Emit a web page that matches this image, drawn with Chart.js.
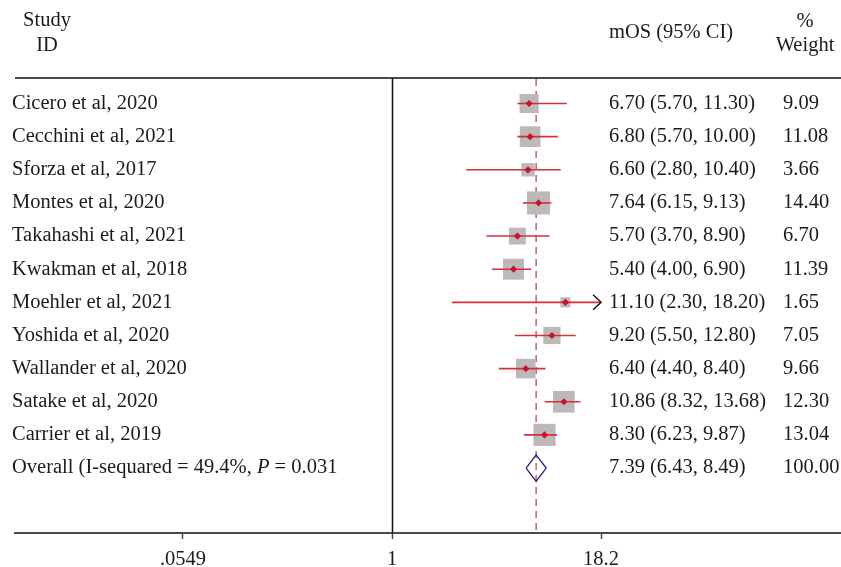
<!DOCTYPE html>
<html>
<head>
<meta charset="utf-8">
<script src="https://cdn.jsdelivr.net/npm/chart.js@4.4.1/dist/chart.umd.min.js"></script>
<style>
  html, body { margin: 0; padding: 0; background: #ffffff; }
  canvas { display: block; }
</style>
</head>
<body>
<canvas id="forest" width="841" height="567"></canvas>
<script>
// ---- Study data: median overall survival (months) with 95% CI and weights ----
const studies = [
  'Cicero et al, 2020',
  'Cecchini et al, 2021',
  'Sforza et al, 2017',
  'Montes et al, 2020',
  'Takahashi et al, 2021',
  'Kwakman et al, 2018',
  'Moehler et al, 2021',
  'Yoshida et al, 2020',
  'Wallander et al, 2020',
  'Satake et al, 2020',
  'Carrier et al, 2019'
];
const mos     = [6.70, 6.80, 6.60, 7.64, 5.70, 5.40, 11.10, 9.20, 6.40, 10.86, 8.30];
const ciLow   = [5.70, 5.70, 2.80, 6.15, 3.70, 4.00, 2.30, 5.50, 4.40, 8.32, 6.23];
const ciHigh  = [11.30, 10.00, 10.40, 9.13, 8.90, 6.90, 18.20, 12.80, 8.40, 13.68, 9.87];
const weights = [9.09, 11.08, 3.66, 14.40, 6.70, 11.39, 1.65, 7.05, 9.66, 12.30, 13.04];

// Pooled estimate
const overallText   = 'Overall (I-sequared = 49.4%, ';
const overallPText  = ' = 0.031';
const overallEst    = 7.39;
const overallLow    = 6.43;
const overallHigh   = 8.49;
const overallWeight = 100.00;

// Axis ticks (log scale)
const xTicks      = [0.0549, 1, 18.2];
const xTickLabels = ['.0549', '1', '18.2'];

// ---- Styling ----
const FONT = '"Liberation Serif", "Times New Roman", serif';
const FONT_SIZE = 20.5;
const TEXT_COLOR = '#1b1b1b';
const RULE_COLOR = '#4a4a4a';
const CI_COLOR = 'rgb(212, 48, 62)';
const POINT_COLOR = 'rgb(200, 20, 42)';
const BOX_COLOR = 'rgb(190, 185, 185)';
const DIAMOND_COLOR = '#2b2b7a';
const REF_COLOR = 'rgb(184, 100, 110)';

// Log-axis bounds leave room for the label columns on both sides
const X_MIN = 0.00533;
const X_MAX = 509;
const Y_MIN = -0.77;
const Y_MAX = 12.96;
const DIAMOND_HALF = 0.40;   // half-height of pooled diamond, in row units

const boxSide = w => 3.4 + 5.2 * Math.sqrt(w);
const overallRow = studies.length;

// ---- Datasets ----
const ciDatasets = studies.map((s, i) => ({
  type: 'line',
  label: s + ' CI',
  data: [{ x: ciLow[i], y: i }, { x: ciHigh[i], y: i }],
  borderColor: CI_COLOR,
  borderWidth: 1.6,
  pointRadius: 0,
  fill: false,
  order: 2
}));

const boxDataset = {
  type: 'scatter',
  label: 'weight box',
  data: mos.map((v, i) => ({ x: v, y: i })),
  pointStyle: 'rect',
  pointRadius: ctx => boxSide(weights[ctx.dataIndex]) / Math.SQRT2,
  backgroundColor: BOX_COLOR,
  borderWidth: 0,
  order: 3
};

const pointDataset = {
  type: 'scatter',
  label: 'estimate',
  data: mos.map((v, i) => ({ x: v, y: i })),
  pointStyle: 'rectRot',
  pointRadius: 3.6,
  backgroundColor: POINT_COLOR,
  borderWidth: 0,
  order: 1
};

const diamondDataset = {
  type: 'line',
  label: 'overall',
  data: [
    { x: overallLow, y: overallRow },
    { x: overallEst, y: overallRow - DIAMOND_HALF },
    { x: overallHigh, y: overallRow },
    { x: overallEst, y: overallRow + DIAMOND_HALF },
    { x: overallLow, y: overallRow }
  ],
  borderColor: DIAMOND_COLOR,
  borderWidth: 1.4,
  pointRadius: 0,
  fill: false,
  tension: 0,
  order: 1
};

// ---- Reference lines, arrows and text columns ----
const forestDecor = {
  id: 'forestDecor',
  beforeDatasetsDraw(chart) {
    const { ctx, chartArea, scales } = chart;
    const x = scales.x;
    ctx.save();
    // top rule under the header
    ctx.strokeStyle = RULE_COLOR;
    ctx.lineWidth = 2;
    ctx.beginPath();
    ctx.moveTo(chartArea.left, chartArea.top);
    ctx.lineTo(chartArea.right, chartArea.top);
    ctx.stroke();
    // line of no effect
    const x1 = Math.round(x.getPixelForValue(1)) + 0.5;
    ctx.strokeStyle = '#111';
    ctx.lineWidth = 1.5;
    ctx.beginPath();
    ctx.moveTo(x1, chartArea.top);
    ctx.lineTo(x1, chartArea.bottom);
    ctx.stroke();
    // pooled estimate reference
    const xo = x.getPixelForValue(overallEst);
    ctx.strokeStyle = REF_COLOR;
    ctx.lineWidth = 1.5;
    ctx.setLineDash([7, 5]);
    ctx.beginPath();
    ctx.moveTo(xo, chartArea.top + 1);
    ctx.lineTo(xo, chartArea.bottom);
    ctx.stroke();
    ctx.restore();
  },
  afterDatasetsDraw(chart) {
    const { ctx, scales } = chart;
    const x = scales.x, y = scales.y;
    const axisMax = xTicks[xTicks.length - 1];
    ctx.save();
    ctx.strokeStyle = '#111';
    ctx.lineWidth = 1.4;
    ciHigh.forEach((hi, i) => {
      if (hi < axisMax) return;
      const px = x.getPixelForValue(axisMax);
      const py = y.getPixelForValue(i);
      ctx.beginPath();
      ctx.moveTo(px - 8, py - 7.5);
      ctx.lineTo(px, py);
      ctx.lineTo(px - 8, py + 7.5);
      ctx.stroke();
    });
    ctx.restore();
  },
  afterDraw(chart) {
    const { ctx, scales } = chart;
    const y = scales.y;
    const normal = FONT_SIZE + 'px ' + FONT;
    ctx.save();
    ctx.fillStyle = TEXT_COLOR;
    ctx.font = normal;
    ctx.textBaseline = 'middle';

    // headers
    ctx.textAlign = 'center';
    ctx.fillText('Study', 47, 21);
    ctx.fillText('ID', 47, 46);
    ctx.fillText('%', 805, 22);
    ctx.fillText('Weight', 805, 46);
    ctx.textAlign = 'left';
    ctx.fillText('mOS (95% CI)', 609, 33);

    // study rows
    studies.forEach((s, i) => {
      const py = y.getPixelForValue(i);
      ctx.fillText(s, 12, py);
      ctx.fillText(`${mos[i].toFixed(2)} (${ciLow[i].toFixed(2)}, ${ciHigh[i].toFixed(2)})`, 609, py);
      ctx.fillText(weights[i].toFixed(2), 783, py);
    });

    // pooled row
    const py = y.getPixelForValue(overallRow);
    let px = 12;
    ctx.fillText(overallText, px, py);
    px += ctx.measureText(overallText).width;
    ctx.font = 'italic ' + normal;
    ctx.fillText('P', px, py);
    px += ctx.measureText('P').width;
    ctx.font = normal;
    ctx.fillText(overallPText, px, py);
    ctx.fillText(`${overallEst.toFixed(2)} (${overallLow.toFixed(2)}, ${overallHigh.toFixed(2)})`, 609, py);
    ctx.fillText(overallWeight.toFixed(2), 783, py);
    ctx.restore();
  }
};

new Chart(document.getElementById('forest'), {
  type: 'scatter',
  data: {
    datasets: [boxDataset, ...ciDatasets, pointDataset, diamondDataset]
  },
  options: {
    responsive: false,
    devicePixelRatio: 1,
    animation: false,
    events: [],
    layout: { autoPadding: false, padding: { top: 78, left: 15, right: 0, bottom: 0 } },
    plugins: { legend: { display: false }, tooltip: { enabled: false } },
    scales: {
      x: {
        type: 'logarithmic',
        min: X_MIN,
        max: X_MAX,
        afterBuildTicks: scale => { scale.ticks = xTicks.map(v => ({ value: v })); },
        afterFit: scale => { scale.height = 34; },
        ticks: {
          autoSkip: false,
          maxRotation: 0,
          padding: 8,
          color: TEXT_COLOR,
          font: { family: FONT, size: FONT_SIZE },
          callback: (value, index) => xTickLabels[index]
        },
        grid: {
          drawOnChartArea: false,
          drawTicks: true,
          tickLength: 6,
          tickColor: RULE_COLOR,
          tickWidth: 1.5
        },
        border: { display: true, color: RULE_COLOR, width: 2 }
      },
      y: {
        type: 'linear',
        display: false,
        reverse: true,
        min: Y_MIN,
        max: Y_MAX
      }
    }
  },
  plugins: [forestDecor]
});
</script>
</body>
</html>
